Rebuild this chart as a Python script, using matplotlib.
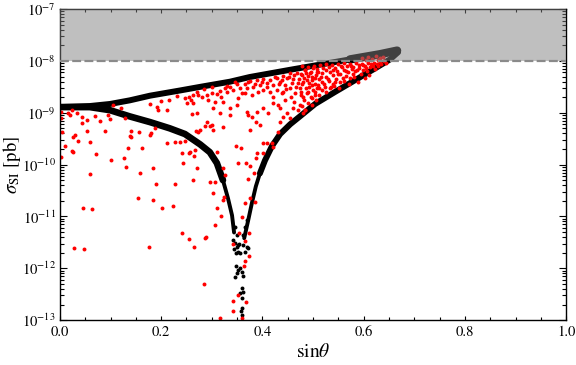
import matplotlib
matplotlib.use("Agg")
import matplotlib.pyplot as plt
import numpy as np
from matplotlib.ticker import MultipleLocator, LogLocator, NullFormatter

plt.rcParams['font.family'] = 'STIXGeneral'
plt.rcParams['mathtext.fontset'] = 'stix'

# excluded region (pb)
limit_lo = 1e-8
limit_hi = 1e-7

# black bands: sin(theta) and log10(sigma_SI / pb)
upper_x = [0.000, 0.059, 0.099, 0.138, 0.178, 0.237, 0.277, 0.336, 0.375, 0.455, 0.514, 0.573, 0.632, 0.666]
upper_log = [-8.89, -8.87, -8.83, -8.76, -8.67, -8.57, -8.50, -8.40, -8.31, -8.17, -8.07, -7.97, -7.87, -7.80]

lower_x = [0.000, 0.059, 0.099, 0.138, 0.178, 0.217, 0.247, 0.277, 0.296, 0.310, 0.322, 0.332, 0.340, 0.344]
lower_log = [-8.89, -8.89, -8.95, -9.07, -9.18, -9.30, -9.41, -9.61, -9.76, -9.97, -10.30, -10.65, -10.98, -11.31]

right_x = [0.364, 0.372, 0.379, 0.387, 0.395, 0.405, 0.419, 0.435, 0.455, 0.474, 0.504, 0.543, 0.583, 0.623, 0.652, 0.668]
right_log = [-11.42, -11.07, -10.75, -10.42, -10.17, -9.92, -9.64, -9.41, -9.22, -9.07, -8.83, -8.60, -8.37, -8.14, -7.97, -7.83]

dip_x = [0.346, 0.350, 0.352, 0.356, 0.348, 0.370, 0.372, 0.366, 0.348, 0.352, 0.360, 0.356, 0.362,
         0.350, 0.346, 0.360, 0.362, 0.356, 0.360, 0.360, 0.358, 0.360, 0.344, 0.354, 0.362,
         0.346, 0.350, 0.370, 0.366, 0.362, 0.342, 0.352]
dip_log = [-11.52, -11.59, -11.69, -11.71, -11.71, -11.58, -11.61, -11.69, -11.96, -12.04, -12.08, -12.00, -12.14,
           -12.10, -12.17, -12.39, -12.46, -12.48, -12.58, -12.77, -12.83, -12.91, -11.63, -11.54, -11.56,
           -11.21, -11.36, -11.07, -11.21, -11.36, -11.46, -11.56]

# red scan points
red_x = [
    0.003, 0.003, 0.004, 0.016, 0.024, 0.034, 0.043, 0.043, 0.053, 0.026, 0.030, 0.036, 0.010, 0.024, 0.026,
    0.053, 0.059, 0.071, 0.079, 0.069, 0.089, 0.095, 0.099, 0.002, 0.059, 0.101, 0.128, 0.126, 0.130, 0.134,
    0.140, 0.140, 0.156, 0.162, 0.158, 0.154, 0.180, 0.188, 0.184, 0.190, 0.184, 0.178, 0.194, 0.227, 0.227,
    0.237, 0.243, 0.121, 0.045, 0.063, 0.138, 0.178, 0.176, 0.202, 0.211, 0.223, 0.241, 0.255, 0.265, 0.263,
    0.271, 0.247, 0.255, 0.265, 0.269, 0.267, 0.028, 0.047, 0.285, 0.287, 0.316, 0.342, 0.342, 0.368, 0.360,
    0.374, 0.366, 0.364, 0.342, 0.352, 0.366,
    0.291, 0.287, 0.296, 0.302, 0.277, 0.273, 0.322, 0.375, 0.387, 0.395, 0.431, 0.435, 0.241, 0.257, 0.348,
    0.358, 0.352, 0.368, 0.375, 0.387, 0.389, 0.401, 0.401, 0.409, 0.419, 0.421, 0.372, 0.383, 0.296, 0.306,
    0.302, 0.310, 0.318, 0.306, 0.289, 0.322, 0.326, 0.322, 0.324, 0.385, 0.366, 0.360, 0.375, 0.354, 0.374,
    0.247, 0.255, 0.263, 0.273, 0.251, 0.263, 0.281, 0.291, 0.300, 0.310, 0.292, 0.306, 0.316, 0.326, 0.330,
    0.336, 0.342, 0.350, 0.356, 0.366, 0.370, 0.375, 0.381, 0.389, 0.395, 0.401, 0.409, 0.415, 0.421, 0.429,
    0.435, 0.441, 0.445, 0.449, 0.455, 0.460, 0.468, 0.470, 0.478, 0.484, 0.488, 0.494, 0.498, 0.500, 0.504,
    0.508, 0.510, 0.322, 0.352, 0.366, 0.379, 0.401, 0.415, 0.429, 0.441, 0.455, 0.464, 0.474, 0.480, 0.490,
    0.498, 0.504, 0.302, 0.336, 0.350, 0.370, 0.372, 0.379, 0.389, 0.401, 0.411, 0.421, 0.435, 0.441, 0.449,
    0.455, 0.460, 0.474, 0.484, 0.261, 0.271, 0.300, 0.310, 0.336, 0.316,
    0.478, 0.484, 0.490, 0.496, 0.502, 0.508, 0.514, 0.520, 0.526, 0.532, 0.538, 0.543, 0.549, 0.555, 0.561,
    0.567, 0.573, 0.579, 0.585, 0.591, 0.597, 0.603, 0.609, 0.615, 0.621, 0.626, 0.632,
    0.476, 0.482, 0.490, 0.498, 0.506, 0.512, 0.518, 0.526, 0.534, 0.540, 0.547, 0.553, 0.561, 0.569, 0.577,
    0.583, 0.591, 0.599, 0.605, 0.613,
    0.478, 0.486, 0.492, 0.500, 0.510, 0.518, 0.524, 0.532, 0.540, 0.545, 0.553, 0.559, 0.565, 0.573, 0.579,
    0.476, 0.482, 0.488, 0.496, 0.504, 0.512, 0.518, 0.526, 0.534, 0.542,
    0.478, 0.484, 0.490, 0.498, 0.480, 0.506,
    0.597, 0.609, 0.617, 0.625, 0.632, 0.638, 0.605, 0.628,
    0.105, 0.211, 0.192, 0.020,
    0.425, 0.432, 0.438, 0.447, 0.452, 0.458, 0.462, 0.466, 0.472, 0.476, 0.481, 0.486, 0.492, 0.497, 0.503,
    0.507, 0.512, 0.516, 0.521, 0.525, 0.529, 0.536, 0.540, 0.544, 0.549, 0.552, 0.557, 0.562, 0.566, 0.571,
    0.575, 0.580, 0.586, 0.588, 0.594, 0.598, 0.602, 0.607, 0.611, 0.618, 0.622, 0.628, 0.635, 0.640, 0.644,
    0.456, 0.462, 0.470, 0.445, 0.438, 0.430, 0.420, 0.410, 0.400, 0.392, 0.385, 0.372, 0.360, 0.345, 0.330,
    0.318, 0.300, 0.285, 0.270, 0.258, 0.232, 0.215, 0.200,
]
red_log = [
    -8.99, -9.10, -9.37, -9.01, -8.95, -9.01, -9.08, -9.20, -9.14, -9.47, -9.43, -9.55, -9.64, -9.74, -9.76,
    -9.36, -9.57, -9.80, -9.16, -9.07, -9.36, -9.05, -9.12, -9.86, -10.19, -9.92, -9.10, -9.88, -10.05, -9.68,
    -9.36, -9.47, -9.37, -9.68, -10.17, -10.65, -9.39, -9.30, -10.07, -10.38, -10.69, -8.83, -8.95, -9.57, -10.38,
    -9.57, -9.97, -8.91, -10.84, -10.86, -9.45, -9.43, -11.58, -10.84, -9.59, -10.80, -11.31, -11.44, -11.59, -10.30,
    -10.07, -9.55, -9.78, -9.84, -9.36, -9.72, -11.61, -11.63, -12.31, -11.42, -12.95, -12.64, -12.83, -12.66, -12.95,
    -11.77, -11.86, -11.96, -11.54, -12.52, -11.48,
    -9.18, -9.26, -9.26, -9.34, -9.34, -9.37, -9.28, -9.34, -9.18, -9.24, -9.37, -9.18, -9.78, -9.76, -9.64,
    -9.68, -9.97, -9.97, -10.03, -9.88, -9.78, -9.78, -9.59, -9.59, -9.59, -9.66, -10.28, -10.17, -10.34, -10.34,
    -10.55, -10.84, -11.00, -11.17, -11.40, -10.07, -10.20, -10.69, -10.63, -10.73, -10.75, -11.02, -10.65, -11.32, -11.32,
    -8.72, -8.70, -8.66, -8.66, -8.81, -8.81, -8.70, -8.66, -8.62, -8.64, -8.76, -8.80, -8.58, -8.53, -8.60,
    -8.51, -8.56, -8.45, -8.53, -8.45, -8.53, -8.39, -8.51, -8.37, -8.47, -8.35, -8.43, -8.37, -8.47, -8.33,
    -8.41, -8.29, -8.47, -8.33, -8.24, -8.35, -8.24, -8.43, -8.27, -8.18, -8.37, -8.24, -8.47, -8.14, -8.33,
    -8.53, -8.22, -8.80, -8.72, -8.62, -8.66, -8.56, -8.60, -8.56, -8.60, -8.53, -8.62, -8.53, -8.70, -8.60,
    -8.72, -8.66, -8.91, -8.91, -8.85, -8.99, -9.05, -9.08, -8.99, -8.91, -9.01, -8.81, -8.91, -9.08, -9.01,
    -9.10, -8.91, -8.85, -8.95, -9.03, -9.01, -9.24, -9.76, -9.05, -9.01,
    -8.10, -8.18, -8.12, -8.22, -8.10, -8.16, -8.08, -8.14, -8.06, -8.12, -8.08, -8.14, -8.06, -8.10, -8.04,
    -8.10, -8.06, -8.12, -8.04, -8.08, -8.06, -8.10, -8.04, -8.06, -8.04, -8.06, -8.02,
    -8.25, -8.33, -8.29, -8.37, -8.27, -8.35, -8.24, -8.31, -8.22, -8.27, -8.20, -8.25, -8.18, -8.22, -8.16,
    -8.20, -8.14, -8.18, -8.14, -8.12,
    -8.45, -8.53, -8.43, -8.56, -8.47, -8.41, -8.51, -8.39, -8.45, -8.35, -8.41, -8.33, -8.29, -8.33, -8.25,
    -8.66, -8.76, -8.62, -8.70, -8.60, -8.66, -8.56, -8.60, -8.53, -8.49,
    -8.87, -8.95, -8.81, -8.85, -9.01, -8.76,
    -7.95, -7.93, -7.97, -7.91, -7.95, -7.93, -7.98, -7.98,
    -8.85, -8.95, -8.89, -9.05,
    -8.30, -8.45, -8.36, -8.55, -8.30, -8.42, -8.28, -8.50, -8.35, -8.60, -8.40, -8.23, -8.50, -8.30, -8.44,
    -8.22, -8.52, -8.30, -8.45, -8.18, -8.35, -8.50, -8.17, -8.40, -8.25, -8.52, -8.12, -8.38, -8.20, -8.45,
    -8.10, -8.30, -8.18, -8.40, -8.25, -8.08, -8.32, -8.20, -8.27, -8.10, -8.16, -8.09, -8.05, -8.00, -8.03,
    -8.70, -8.80, -8.95, -8.75, -8.62, -8.85, -8.70, -8.50, -8.40, -8.60, -8.45, -8.40, -8.62, -8.40, -8.48,
    -8.70, -8.50, -8.55, -8.60, -8.75, -8.68, -8.75, -8.78,
]

fig = plt.figure(figsize=(5.76, 3.65), dpi=100)
ax = fig.add_axes([0.104, 0.123, 0.879, 0.852])

upper_y = 10.0 ** np.array(upper_log)
lower_y = 10.0 ** np.array(lower_log)
right_y = 10.0 ** np.array(right_log)

ax.plot(upper_x, upper_y, color='black', lw=4.3, solid_capstyle='round', zorder=1)
ax.plot(upper_x[-3:], upper_y[-3:], color='black', lw=6, solid_capstyle='round', zorder=1)
# thick part of the left branch, then the narrow part near the dip
ax.plot(lower_x[:11], lower_y[:11], color='black', lw=4.8, solid_capstyle='round', zorder=1)
ax.plot(lower_x[9:], lower_y[9:], color='black', lw=2.8, solid_capstyle='round', zorder=1)
ax.plot(right_x[:6], right_y[:6], color='black', lw=2.8, solid_capstyle='round', zorder=1)
ax.plot(right_x[4:], right_y[4:], color='black', lw=4.3, solid_capstyle='round', zorder=1)
ax.scatter(dip_x, 10.0 ** np.array(dip_log), s=8, color='black', linewidths=0, zorder=1.5)
ax.scatter(red_x, 10.0 ** np.array(red_log), s=8, color='red', linewidths=0, zorder=2)

ax.axhspan(limit_lo, limit_hi, color=(0.5, 0.5, 0.5), alpha=0.5, lw=0, zorder=3)
ax.axhline(limit_lo, color='#8a8a8a', lw=1.6, ls=(0, (4, 1.5)), zorder=4)

ax.set_yscale('log')
ax.set_xlim(0, 1)
ax.set_ylim(1e-13, 1e-7)

ax.xaxis.set_major_locator(MultipleLocator(0.2))
ax.xaxis.set_minor_locator(MultipleLocator(0.05))
ax.yaxis.set_major_locator(LogLocator(base=10, numticks=20))
ax.yaxis.set_minor_locator(LogLocator(base=10, subs=np.arange(2, 10), numticks=20))
ax.yaxis.set_minor_formatter(NullFormatter())

ax.tick_params(which='both', direction='in', top=True, right=True, labelsize=10.5)
ax.tick_params(axis='x', which='major', length=3.2, width=0.8, pad=4)
ax.tick_params(axis='x', which='minor', length=2.2, width=0.8)
ax.tick_params(axis='y', which='major', length=5, width=0.8, pad=3)
ax.tick_params(axis='y', which='minor', length=3, width=0.8)
for s in ax.spines.values():
    s.set_linewidth(1.0)

ax.set_xlabel(r'sin$\theta$', fontsize=14, labelpad=3)
ax.set_ylabel(r'$\sigma_{\rm SI}$ [pb]', fontsize=13.5)
ax.yaxis.set_label_coords(-0.072, 0.5)

fig.savefig('out.png', dpi=100)
